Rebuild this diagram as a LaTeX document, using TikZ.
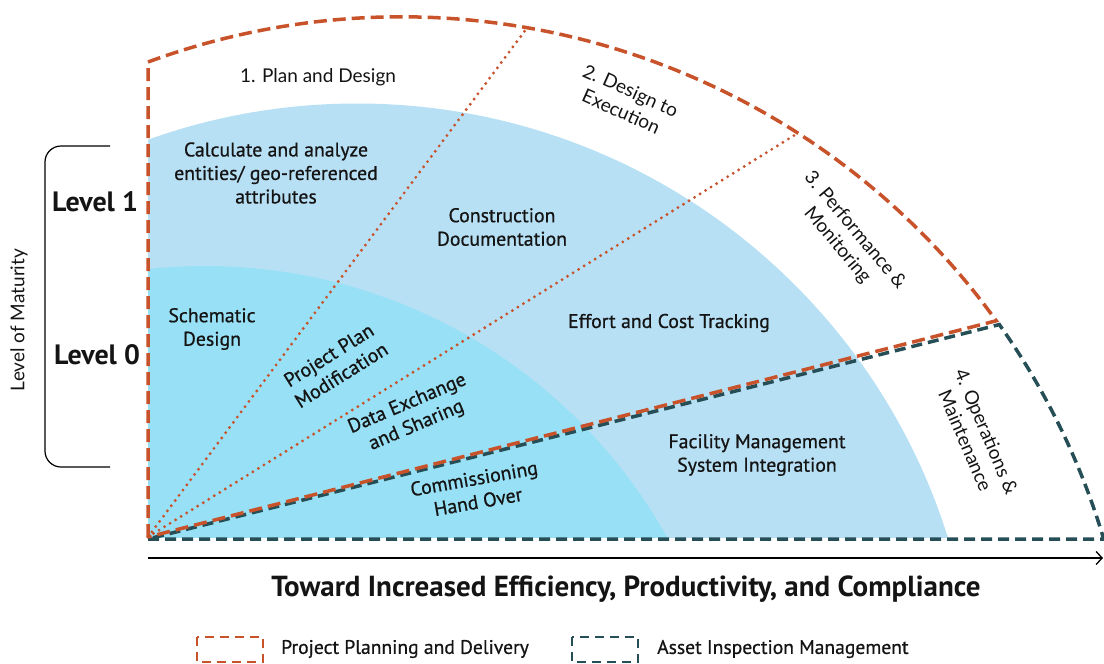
\documentclass[tikz,border=0pt]{standalone}
\usepackage{fontspec}
\setmainfont{Lato}
\newfontfamily\din{PT Sans}
\newfontfamily\dinm{PT Sans}[FakeBold=0.7]
\usetikzlibrary{arrows.meta}
\definecolor{ppc}{RGB}{200,82,42}
\definecolor{aic}{RGB}{38,78,86}
\definecolor{lbc}{RGB}{184,224,245}
\definecolor{cyc}{RGB}{152,224,245}
\definecolor{txc}{RGB}{20,20,20}
\begin{document}
\begin{tikzpicture}[x=1pt,y=-1pt,
  lbl/.style={font=\dinm\fontsize{19.8}{23.5}\selectfont, align=center, text=txc, inner sep=0pt},
  phase/.style={font=\fontsize{19}{23}\selectfont, align=center, text=txc, inner sep=0pt},
  ppline/.style={draw=ppc, line width=3.5pt, dash pattern=on 13pt off 6pt},
  ailine/.style={draw=aic, line width=3.5pt, dash pattern=on 11pt off 6pt},
  dotline/.style={draw=ppc, line width=3.2pt, line cap=round, dash pattern=on 0pt off 6.5pt},
  legbox/.style={line width=2.6pt, dash pattern=on 9pt off 6pt},
  legtxt/.style={font=\dinm\fontsize{19.6}{22}\selectfont, anchor=west, text=txc, inner sep=0pt}]
\useasboundingbox (0,0) rectangle (1104,664);
% key points
\coordinate (O) at (148,537);
\coordinate (A) at (148,62);
\coordinate (P1) at (527,28);
\coordinate (P2) at (798,133);
\coordinate (T0) at (148,539);
\coordinate (B) at (1103.7,539);
% fills
\begin{scope}
  \clip (148,0) rectangle (1104,537);
  \fill[lbc] (357,722.5) circle[radius=619];
  \fill[cyc] (205,795) circle[radius=529];
\end{scope}
% dotted rays
\draw[dotline] (O) -- (P1);
\draw[dotline] (O) -- (P2);
% asset inspection outline
\draw[ailine] (T0) -- (B) arc[start angle=-16.6, end angle=-35.3, radius=734] -- (T0);
% project planning outline
\draw[ppline] (O) -- (A) arc[start angle=-110.2, end angle=-35.87, radius=734] -- (O);
% phase labels
\node[phase] (ph1) at (318,77) {1. Plan and Design};
\node[phase, rotate=-24] (ph2) at (626,101) {2. Design to\\Execution};
\node[phase, rotate=-50] (ph3) at (846,238) {3. Performance \&\\Monitoring};
\node[phase, rotate=-67] (ph4) at (976,436) {4. Operations \&\\Maintenance};
% inner labels
\node[lbl] (l1) at (276,173) {Calculate and analyze\\entities/ geo-referenced\\attributes};
\node[lbl] (l2) at (502,227) {Construction\\Documentation};
\node[lbl] (l3) at (212,329) {Schematic\\Design};
\node[lbl, rotate=32] (l4) at (335,365) {Project Plan\\Modification};
\node[lbl, rotate=23] (l5) at (412,415) {Data Exchange\\and Sharing};
\node[lbl] (l6) at (669,323) {Effort and Cost Tracking};
\node[lbl, rotate=10] (l7) at (476,490) {Commissioning\\Hand Over};
\node[lbl] (l8) at (757,455) {Facility Management\\System Integration};
% levels
\node[font=\din\bfseries\fontsize{28}{30}\selectfont, text=txc, inner sep=0pt] (lv1) at (95,202) {Level 1};
\node[font=\din\bfseries\fontsize{28}{30}\selectfont, text=txc, inner sep=0pt] (lv0) at (97,355) {Level 0};
\node[rotate=90, font=\fontsize{19}{22}\selectfont, text=txc, inner sep=0pt] (lom) at (19,320) {Level of Maturity};
\coordinate (brT) at (110,146);
\coordinate (brB) at (110,467);
\draw[line width=1.2pt, rounded corners=16pt] (brT) -- (45,146) -- (45,467) -- (brB);
% axis
\coordinate (axL) at (148,558);
\coordinate (axR) at (1103,558);
\draw[line width=1.3pt, -{Straight Barb[length=6pt,width=13pt]}] (axL) -- (axR);
\node[font=\din\bfseries\fontsize{29}{32}\selectfont, text=txc, inner sep=0pt] (ttl) at (626,589) {Toward Increased Efficiency, Productivity, and Compliance};
% legend
\draw[legbox, draw=ppc] (197,637) rectangle (263,662);
\node[legtxt] (lg1) at (281,649) {Project Planning and Delivery};
\draw[legbox, draw=aic] (572,637) rectangle (638,662);
\node[legtxt] (lg2) at (657,649) {Asset Inspection Management};
\end{tikzpicture}
\end{document}
